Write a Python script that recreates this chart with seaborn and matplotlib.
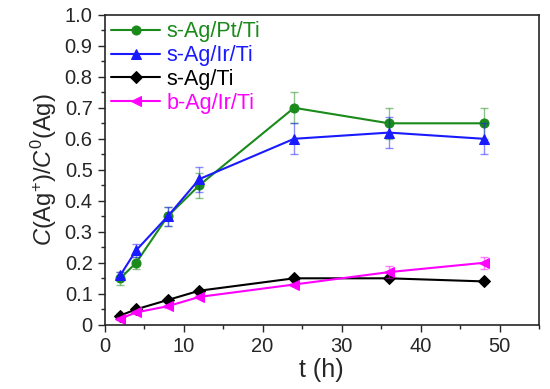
import numpy as np
import pandas as pd
import seaborn as sns
import matplotlib.pyplot as plt

# data
t = [2, 4, 8, 12, 24, 36, 48]
series = ["s-Ag/Pt/Ti", "s-Ag/Ir/Ti", "s-Ag/Ti", "b-Ag/Ir/Ti"]
pt_ti = [0.15, 0.20, 0.35, 0.45, 0.70, 0.65, 0.65]
pt_ti_err = [0.02, 0.02, 0.03, 0.04, 0.05, 0.05, 0.05]
ir_ti = [0.16, 0.24, 0.35, 0.47, 0.60, 0.62, 0.60]
ir_ti_err = [0.01, 0.02, 0.03, 0.04, 0.05, 0.05, 0.05]
ag_ti = [0.03, 0.05, 0.08, 0.11, 0.15, 0.15, 0.14]
ag_ti_err = [0.005, 0.005, 0.005, 0.005, 0.005, 0.005, 0.005]
b_ir_ti = [0.02, 0.04, 0.06, 0.09, 0.13, 0.17, 0.20]
b_ir_ti_err = [0.005, 0.005, 0.005, 0.005, 0.005, 0.02, 0.02]

colors = ["#1a8a1a", "#1a1aff", "#000000", "#ff00ff"]
markers = ["o", "^", "D", "<"]
msizes = [6.5, 7.5, 6, 7.5]

sns.set_style("ticks")
plt.rcParams['font.family'] = ['Liberation Sans', 'DejaVu Sans']
plt.rcParams['mathtext.fontset'] = 'custom'
plt.rcParams['mathtext.rm'] = 'Liberation Sans'
plt.rcParams['mathtext.it'] = 'Liberation Sans:italic'

fig, ax = plt.subplots(figsize=(5.5, 3.89), dpi=100)

vals = [pt_ti, ir_ti, ag_ti, b_ir_ti]
errs = [pt_ti_err, ir_ti_err, ag_ti_err, b_ir_ti_err]
for name, y, e, c, m, ms in zip(series, vals, errs, colors, markers, msizes):
    ax.errorbar(t, y, yerr=e, fmt="none", ecolor=c, alpha=0.5,
                capsize=3, elinewidth=1, capthick=1)
    df = pd.DataFrame({"t": t, "y": y})
    sns.lineplot(data=df, x="t", y="y", color=c, marker=m, markersize=ms,
                 markeredgecolor=c, linewidth=1.5, label=name, ax=ax)

ax.set_xlim(0, 55)
ax.set_ylim(0, 1.0)
ax.set_xticks(np.arange(0, 51, 10))
ax.set_xticks(np.arange(5, 56, 10), minor=True)
ax.set_yticks(np.arange(0, 1.01, 0.1))
ax.set_yticklabels(["0"] + [f"{v:.1f}" for v in np.arange(0.1, 1.01, 0.1)])
ax.set_yticks(np.arange(0.05, 1.0, 0.1), minor=True)
ax.tick_params(which="major", direction="out", length=5, width=1, labelsize=14.5)
ax.tick_params(which="minor", direction="out", length=3, width=1)
for s in ax.spines.values():
    s.set_linewidth(1.2)

ax.set_xlabel("t (h)", fontsize=18, labelpad=2)
ax.set_ylabel(r"$C$(Ag$^{+}$)/$C^{0}$(Ag)", fontsize=17, labelpad=4)

leg = ax.legend(loc="upper left", frameon=False, fontsize=15.5, handlelength=2.3,
                borderaxespad=0.1, borderpad=0.2, labelspacing=0.13,
                handletextpad=0.3)
for txt, c in zip(leg.get_texts(), colors):
    txt.set_color(c)

fig.subplots_adjust(left=0.19, right=0.98, bottom=0.165, top=0.962)
fig.savefig("out.png", dpi=100)
